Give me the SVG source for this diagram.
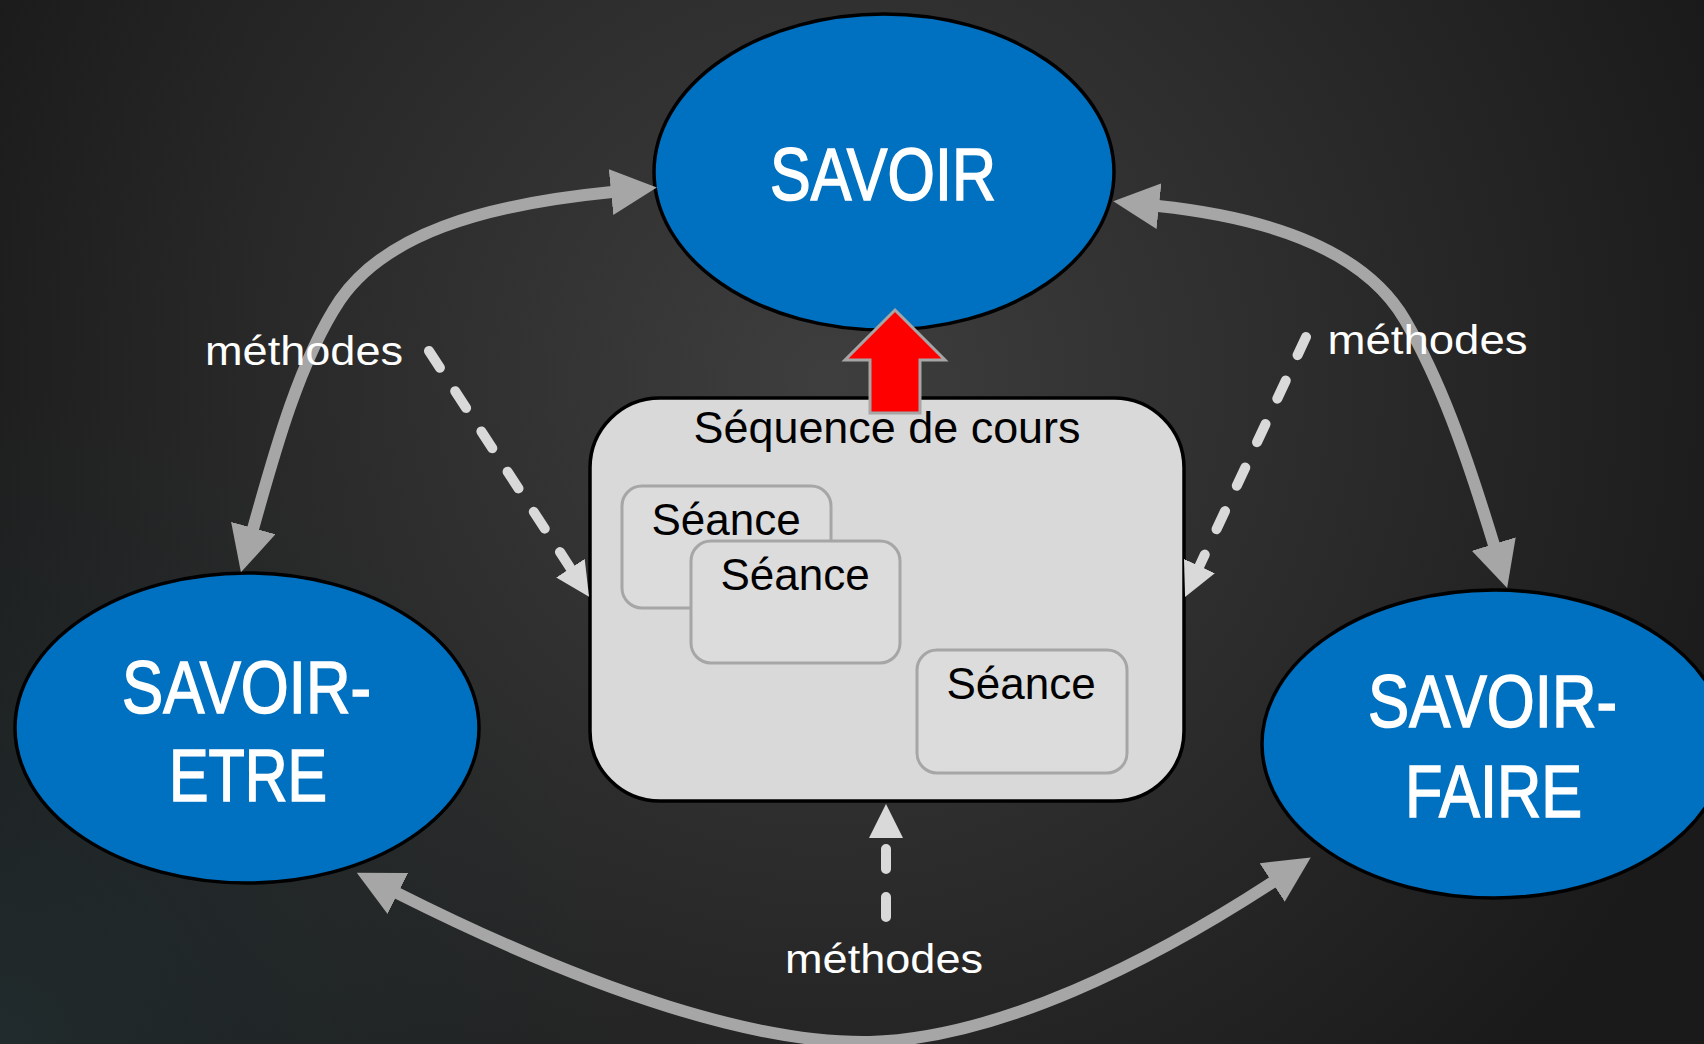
<svg xmlns="http://www.w3.org/2000/svg" width="1704" height="1044" viewBox="0 0 1704 1044">
<defs>
<radialGradient id="bgMain" gradientUnits="userSpaceOnUse" cx="830" cy="380" r="950">
<stop offset="0" stop-color="#3e3e3e"/>
<stop offset="0.45" stop-color="#2e2e2e"/>
<stop offset="1" stop-color="#1a1a1a"/>
</radialGradient>
<radialGradient id="bgTeal" gradientUnits="userSpaceOnUse" cx="0" cy="1044" r="650">
<stop offset="0" stop-color="#243234" stop-opacity="0.7"/>
<stop offset="1" stop-color="#243234" stop-opacity="0"/>
</radialGradient>
<marker id="headGray" markerUnits="userSpaceOnUse" viewBox="0 0 46 46" markerWidth="46" markerHeight="46" refX="1" refY="23" orient="auto-start-reverse">
<path d="M0,0 L46,23 L0,46 z" fill="#a6a6a6"/>
</marker>
<marker id="headLight" markerUnits="userSpaceOnUse" viewBox="0 0 34 34" markerWidth="34" markerHeight="34" refX="1" refY="17" orient="auto">
<path d="M0,0 L34,17 L0,34 z" fill="#d9d9d9"/>
</marker>
</defs>
<style>
.ell{fill:#0070c0;stroke:#000;stroke-width:3.5}
.big{font-family:"Liberation Sans Narrow","Liberation Sans",Arial,sans-serif;font-weight:normal;font-size:74px;fill:#fff;stroke:#fff;stroke-width:1.6;text-anchor:middle}
.seq{fill:#d9d9d9;stroke:#000;stroke-width:3.5}
.sea{fill:#dcdcdc;stroke:#a6a6a6;stroke-width:3}
.dark{font-family:"Liberation Sans",Arial,sans-serif;font-size:44px;fill:#000;text-anchor:middle}
.solid{fill:none;stroke:#a6a6a6;stroke-width:12;marker-start:url(#headGray);marker-end:url(#headGray)}
.dash{fill:none;stroke:#d9d9d9;stroke-width:10;stroke-linecap:round;stroke-dasharray:20 28;marker-end:url(#headLight)}
.lbl{font-family:"Liberation Sans Narrow","Liberation Sans",Arial,sans-serif;font-size:40px;fill:#fff;text-anchor:middle}
</style>
<rect x="0" y="0" width="1704" height="1044" fill="url(#bgMain)"/>
<rect x="0" y="0" width="1704" height="1044" fill="url(#bgTeal)"/>

<g id="nodes">
<g id="savoir">
<ellipse class="ell" cx="884" cy="172" rx="230" ry="158"/>
<text class="big" x="883" y="200" textLength="226" lengthAdjust="spacingAndGlyphs">SAVOIR</text>
</g>
<g id="savoir-etre">
<ellipse class="ell" cx="247" cy="728" rx="232" ry="155"/>
<text class="big" x="246.5" y="713" textLength="249" lengthAdjust="spacingAndGlyphs">SAVOIR-</text>
<text class="big" x="248" y="801" textLength="158" lengthAdjust="spacingAndGlyphs">ETRE</text>
</g>
<g id="savoir-faire">
<ellipse class="ell" cx="1494" cy="744" rx="232" ry="154"/>
<text class="big" x="1492.5" y="727" textLength="249" lengthAdjust="spacingAndGlyphs">SAVOIR-</text>
<text class="big" x="1493.5" y="817" textLength="177" lengthAdjust="spacingAndGlyphs">FAIRE</text>
</g>
<g id="sequence">
<rect class="seq" x="590" y="398" width="594" height="403" rx="70" ry="70"/>
<text class="dark" x="887" y="443" textLength="387" lengthAdjust="spacingAndGlyphs">Séquence de cours</text>
</g>
<g id="seance-1">
<rect class="sea" x="622" y="486" width="209" height="122" rx="20" ry="20"/>
<text class="dark" x="726" y="535">Séance</text>
</g>
<g id="seance-2">
<rect class="sea" x="691" y="541" width="209" height="122" rx="20" ry="20"/>
<text class="dark" x="795" y="590">Séance</text>
</g>
<g id="seance-3">
<rect class="sea" x="917" y="650" width="210" height="123" rx="20" ry="20"/>
<text class="dark" x="1021" y="699">Séance</text>
</g>
</g>

<g id="connectors">
<path class="solid" d="M612,192 C480,205 385,235 340,300 C300,360 275,450 253,529"/>
<path class="solid" d="M1158,206 C1290,220 1370,260 1405,320 C1440,380 1465,450 1494,545"/>
<path class="solid" d="M397,893 C600,995 760,1044 870,1042 C1000,1038 1150,962 1273,882"/>
<path class="dash" d="M429,351 L571,569"/>
<path class="dash" d="M1306,337 L1199,567"/>
<path class="dash" d="M886,917 L886,837"/>
<polygon id="red-arrow" points="895,310 945,360 920,360 920,413 870,413 870,360 845,360" fill="#ff0000" stroke="#a6a6a6" stroke-width="3"/>
<text class="lbl" x="304" y="365" textLength="198" lengthAdjust="spacingAndGlyphs">méthodes</text>
<text class="lbl" x="1427.5" y="354" textLength="200" lengthAdjust="spacingAndGlyphs">méthodes</text>
<text class="lbl" x="884" y="973" textLength="198" lengthAdjust="spacingAndGlyphs">méthodes</text>
</g>
</svg>
